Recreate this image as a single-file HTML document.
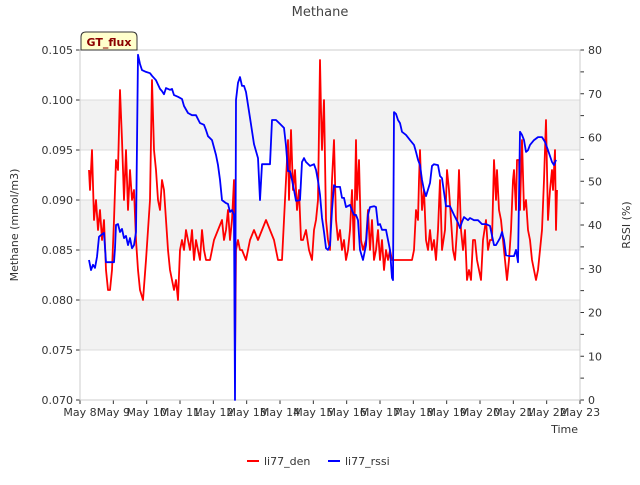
<!DOCTYPE html>
<html><head><meta charset="utf-8"><style>
body{margin:0;background:#fff;font-family:"Liberation Sans","DejaVu Sans",sans-serif;}
svg text{font-family:"DejaVu Sans","Liberation Sans",sans-serif;}
</style></head><body>
<svg id="c" width="640" height="480" xmlns="http://www.w3.org/2000/svg"></svg>
<script>
const denX=[89,90,92,94,96,98,100,102,104,106,108,110,112,114,116,118,120,122,124,126,128,130,132,134,136,138,140,143,146,148,150,152,154,156,158,160,162,164,166,168,170,172,174,176,178,180,182,184,186,188,190,192,194,196,198,200,202,204,206,208,210,214,218,222,224,226,228,230,232,234,235,236,238,240,242,246,250,254,258,262,266,270,274,278,282,284,286,288,289,291,293,295,297,299,301,303,306,309,312,314,316,318,320,321,322,324,326,328,330,332,334,336,338,340,342,344,346,348,350,352,354,356,357,359,361,363,366,368,370,372,374,376,378,380,382,384,386,388,390,392,396,400,404,408,412,414,416,418,419,420,422,424,426,428,430,432,434,436,438,440,442,445,447,449,451,453,455,457,459,461,463,465,467,469,471,473,475,477,479,481,483,486,488,490,492,494,496,497,499,501,503,505,507,509,511,513,514,516,517,519,520,522,524,526,528,530,532,534,536,538,540,542,544,546,548,550,552,553,555,556,557];
const denV=[0.093,0.091,0.095,0.088,0.090,0.087,0.089,0.086,0.088,0.083,0.081,0.081,0.083,0.088,0.094,0.093,0.101,0.096,0.090,0.095,0.089,0.093,0.090,0.091,0.086,0.083,0.081,0.080,0.084,0.087,0.090,0.102,0.095,0.093,0.090,0.089,0.092,0.091,0.088,0.085,0.083,0.082,0.081,0.082,0.080,0.085,0.086,0.085,0.087,0.086,0.085,0.087,0.084,0.086,0.085,0.084,0.087,0.085,0.084,0.084,0.084,0.086,0.087,0.088,0.086,0.087,0.089,0.086,0.088,0.092,0.074,0.085,0.086,0.085,0.085,0.084,0.086,0.087,0.086,0.087,0.088,0.087,0.086,0.084,0.084,0.088,0.092,0.096,0.090,0.097,0.091,0.093,0.089,0.091,0.086,0.086,0.087,0.085,0.084,0.087,0.088,0.090,0.104,0.099,0.095,0.100,0.088,0.086,0.085,0.092,0.096,0.088,0.086,0.087,0.085,0.086,0.084,0.085,0.087,0.091,0.085,0.096,0.090,0.094,0.086,0.085,0.086,0.089,0.085,0.088,0.084,0.085,0.087,0.084,0.086,0.083,0.085,0.084,0.085,0.084,0.084,0.084,0.084,0.084,0.084,0.085,0.089,0.088,0.092,0.095,0.089,0.091,0.086,0.085,0.087,0.085,0.086,0.084,0.087,0.092,0.085,0.087,0.093,0.091,0.088,0.085,0.084,0.087,0.093,0.087,0.085,0.087,0.082,0.083,0.082,0.086,0.086,0.084,0.083,0.082,0.086,0.088,0.085,0.086,0.086,0.094,0.090,0.093,0.089,0.088,0.086,0.084,0.082,0.084,0.087,0.092,0.093,0.089,0.094,0.094,0.089,0.096,0.089,0.090,0.087,0.086,0.084,0.083,0.082,0.083,0.085,0.087,0.092,0.098,0.088,0.091,0.093,0.091,0.095,0.087,0.091];
const rssiX=[89,91,93,95,97,99,101,104,106,110,114,115,116,118,120,122,124,126,128,130,132,134,136,138,140,142,146,150,152,156,160,162,164,166,170,172,174,178,182,184,188,192,196,200,204,206,208,212,216,218,220,222,226,228,230,232,234,235,236,238,240,242,244,246,250,254,258,260,262,266,270,272,276,280,284,286,288,290,292,294,296,300,302,304,306,310,314,316,318,320,322,324,326,328,330,332,334,336,340,342,344,346,350,352,354,356,358,360,363,366,368,370,374,376,378,380,382,386,388,390,392,393,394,396,398,400,402,406,410,414,416,418,420,422,424,426,430,432,434,438,440,442,446,450,454,458,460,462,464,468,470,474,478,482,486,490,494,496,500,502,504,506,510,514,516,518,520,522,524,526,528,530,534,538,542,545,548,552,554,556];
const rssiYpx=[260,270,265,268,257,237,235,233,262,262,262,248,225,224,232,229,238,236,245,238,248,245,232,55,64,70,72,73,76,80,89,91,94,88,90,89,95,97,99,106,113,115,115,123,125,130,136,140,155,165,180,200,203,204,212,210,215,400,100,83,77,86,86,92,118,144,158,200,164,164,164,120,120,124,128,146,171,171,180,190,201,200,162,158,162,166,164,170,181,195,218,232,248,250,245,210,185,187,187,198,198,207,205,210,215,215,220,250,260,245,215,207,206,207,225,224,230,230,240,250,278,280,112,114,120,123,132,135,140,145,152,160,165,180,190,196,183,166,164,165,176,178,206,206,215,223,228,222,217,220,218,220,220,224,224,226,245,245,238,232,240,255,256,256,250,262,132,135,140,152,150,145,140,137,137,142,150,162,165,160];
const rssiV=rssiYpx.map(y=>Math.round((400-y)/4.375*10)/10);
const xTicks=["May 8","May 9","May 10","May 11","May 12","May 13","May 14","May 15","May 16","May 17","May 18","May 19","May 20","May 21","May 22","May 23"];
const yTicks=["0.070","0.075","0.080","0.085","0.090","0.095","0.100","0.105"];
const y2Ticks=[0,10,20,30,40,50,60,70,80];

const L=80,R=580,T=50,B=400,NS="http://www.w3.org/2000/svg";
const sx=d=>L+d*(R-L)/15;
const sy=v=>B-(v-0.070)/0.035*(B-T);
const sy2=v=>B-v/80*(B-T);
const svg=document.getElementById('c');
function mk(tag,attrs,txt){const e=document.createElementNS(NS,tag);for(const k in attrs)e.setAttribute(k,attrs[k]);if(txt!==undefined)e.textContent=txt;svg.appendChild(e);return e;}

// bands
for(let i=0;i<3;i++){const top=0.100-i*0.010;
const b=mk('rect',{x:L,y:sy(top),width:R-L,height:sy(top-0.005)-sy(top),fill:'#f2f2f2'});

}
yTicks.forEach(t=>{const v=+t;
const g=mk('line',{x1:L,x2:R,y1:sy(v),y2:sy(v),stroke:'#dcdcdc','stroke-width':1});


const tl=mk('line',{x1:L-4,x2:L,y1:sy(v),y2:sy(v),stroke:'#333'});


const lb=mk('text',{x:L-7,y:sy(v)+4,'text-anchor':'end','font-size':11,fill:'#333'},t);

});
for(let v=0;v<=80;v+=5){
const tl=mk('line',{x1:R,x2:R+4,y1:sy2(v),y2:sy2(v),stroke:'#333'});

}
y2Ticks.forEach(v=>{
const lb=mk('text',{x:R+8,y:sy2(v)+4,'font-size':11,fill:'#333'},String(v));

});
xTicks.forEach((t,i)=>{
const tl=mk('line',{x1:sx(i),x2:sx(i),y1:B,y2:B+4,stroke:'#333'});


const lb=mk('text',{x:sx(i),y:B+16,'text-anchor':'middle','font-size':11,fill:'#333'},t);

});
const fr=mk('rect',{x:L,y:T,width:R-L,height:B-T,fill:'none',stroke:'#ccc'});



const dayOf=px=>(px-80)/(500/15);
let p1=denX.map((x,i)=>(i?'L':'M')+sx(dayOf(x)).toFixed(1)+','+sy(denV[i]).toFixed(1)).join('');
const l1=mk('path',{d:p1,fill:'none',stroke:'#ff0000','stroke-width':1.8,'stroke-linejoin':'round'});


let p2=rssiX.map((x,i)=>(i?'L':'M')+sx(dayOf(x)).toFixed(1)+','+sy2(rssiV[i]).toFixed(1)).join('');
const l2=mk('path',{d:p2,fill:'none',stroke:'#0000ff','stroke-width':1.8,'stroke-linejoin':'round'});



const tt=mk('text',{x:320,y:16,'text-anchor':'middle','font-size':13,fill:'#444'},'Methane');


const yt=mk('text',{x:18,y:225,'text-anchor':'middle','font-size':11,fill:'#333',transform:'rotate(-90 18 225)'},'Methane (mmol/m3)');


const y2t=mk('text',{x:630,y:225,'text-anchor':'middle','font-size':11,fill:'#333',transform:'rotate(-90 630 225)'},'RSSI (%)');


const xt=mk('text',{x:578,y:433,'text-anchor':'end','font-size':11,fill:'#333'},'Time');



const gb=mk('path',{d:'M81,50 L81,37 Q81,32 86,32 L132,32 Q137,32 137,37 L137,50 Z',fill:'#ffffcc',stroke:'#333'});


const gt=mk('text',{x:109,y:46,'text-anchor':'middle','font-size':11,'font-weight':'bold',fill:'#8b0000'},'GT_flux');



const lg1=mk('line',{x1:247,x2:259,y1:461,y2:461,stroke:'#ff0000','stroke-width':2});


const lt1=mk('text',{x:264,y:465,'font-size':11,fill:'#333'},'li77_den');


const lg2=mk('line',{x1:328,x2:340,y1:461,y2:461,stroke:'#0000ff','stroke-width':2});


const lt2=mk('text',{x:345,y:465,'font-size':11,fill:'#333'},'li77_rssi');


</script>
</body></html>
